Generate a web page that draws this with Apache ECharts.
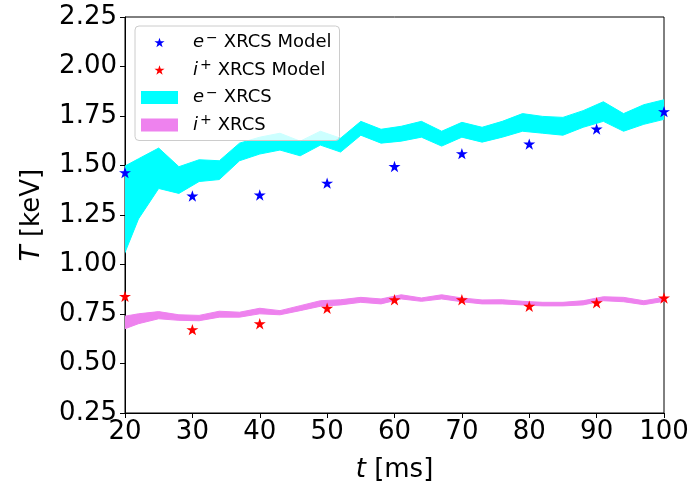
<!DOCTYPE html>
<html>
<head>
<meta charset="utf-8">
<script src="https://cdn.jsdelivr.net/npm/echarts@6/dist/echarts.min.js"></script>
<style>
html,body{margin:0;padding:0;background:#fff;}
#chart{width:695px;height:488px;}
</style>
</head>
<body>
<div id="chart"></div>
<script>
// band time grid (ms)
const bandTimes = [19,22,25,28,31,34,37,40,43,46,49,52,55,58,61,64,67,70,73,76,79,82,85,88,91,94,97,100];
// e- XRCS band (keV)
const eUpper = [1.479,1.534,1.588,1.494,1.529,1.524,1.613,1.643,1.663,1.623,1.673,1.638,1.723,1.683,1.698,1.723,1.673,1.718,1.693,1.723,1.762,1.748,1.743,1.777,1.822,1.762,1.807,1.832];
const eLower = [0.976,1.230,1.384,1.359,1.419,1.429,1.524,1.558,1.578,1.549,1.603,1.568,1.653,1.613,1.623,1.643,1.598,1.643,1.618,1.643,1.673,1.663,1.653,1.693,1.723,1.673,1.708,1.733];
// i+ XRCS band (keV)
const iUpper = [0.733,0.751,0.762,0.746,0.743,0.764,0.759,0.779,0.767,0.792,0.817,0.822,0.834,0.826,0.847,0.831,0.847,0.831,0.821,0.822,0.814,0.809,0.809,0.817,0.837,0.834,0.817,0.834];
const iLower = [0.663,0.701,0.726,0.718,0.716,0.734,0.734,0.751,0.746,0.767,0.789,0.796,0.809,0.801,0.826,0.814,0.826,0.812,0.801,0.801,0.796,0.791,0.791,0.796,0.817,0.812,0.797,0.814];
// model points
const modelTimes = [20,30,40,50,60,70,80,90,100];
const eModel = [1.464,1.346,1.351,1.411,1.495,1.560,1.608,1.684,1.772];
const iModel = [0.839,0.671,0.701,0.779,0.822,0.822,0.789,0.807,0.831];
// ticks
const xTicks = {min:20, max:100, interval:10};
const yTicks = {min:0.25, max:2.25, interval:0.25};

const STAR_PATH = 'M50,0 L61.8,35.1 L100,35.1 L69.1,57.6 L80.9,95.1 L50,72.6 L19.1,95.1 L30.9,57.6 L0,35.1 L38.2,35.1 Z';
const STAR = 'path://' + STAR_PATH;
const STAR_LEGEND = 'path://M-14,-16 M114,112 ' + STAR_PATH;
const FONT = 'DejaVu Sans';

const pairs = (xs, ys) => xs.map((x, k) => [x, ys[k]]);

function bandSeries(name, color, up, lo) {
  return {
    name: name, type: 'custom', clip: true, silent: true, z: 2,
    itemStyle: {color: color},
    data: bandTimes.map((t, k) => [t, lo[k], up[k]]),
    encode: {x: 0, y: [1, 2]},
    renderItem: function (params, api) {
      if (params.dataIndex !== 0) return null;
      const top = bandTimes.map((t, k) => api.coord([t, up[k]]));
      const bot = bandTimes.map((t, k) => api.coord([t, lo[k]])).reverse();
      return {
        type: 'polygon',
        shape: {points: top.concat(bot)},
        style: {fill: color, stroke: color, lineWidth: 1}
      };
    }
  };
}

const rich = {
  i: {fontFamily: FONT, fontStyle: 'italic', fontSize: 18, color: '#000', lineHeight: 20},
  s: {fontFamily: FONT, fontSize: 14, color: '#000', lineHeight: 11, padding: [0, 6, 9, 2]}
};
const eName = '{i|e}{s|−}XRCS Model';
const iName = '{i|i}{s|+}XRCS Model';
const eBand = '{i|e}{s|−}XRCS';
const iBand = '{i|i}{s|+}XRCS';

const chart = echarts.init(document.getElementById('chart'), null, {renderer: 'canvas'});
chart.setOption({
  animation: false,
  backgroundColor: '#ffffff',
  grid: {left: 125, right: 31, top: 17, bottom: 69, show: true, borderColor: '#000', borderWidth: 1, backgroundColor: 'transparent'},
  legend: {
    orient: 'vertical', left: 135, top: 26,
    padding: [5, 8, 4, 6], itemGap: 4.5, itemWidth: 37, itemHeight: 13,
    backgroundColor: 'rgba(255,255,255,0.8)', borderColor: '#cccccc', borderWidth: 1, borderRadius: 4,
    textStyle: {fontFamily: FONT, fontSize: 18, color: '#000', lineHeight: 20, padding: [0, 0, 0, 10], rich: rich},
    data: [
      {name: eName, icon: STAR_LEGEND, itemStyle: {color: '#0000ff'}},
      {name: iName, icon: STAR_LEGEND, itemStyle: {color: '#ff0000'}},
      {name: eBand, icon: 'rect', itemStyle: {color: '#00ffff'}},
      {name: iBand, icon: 'rect', itemStyle: {color: '#ee82ee'}}
    ]
  },
  xAxis: {
    type: 'value', min: xTicks.min, max: xTicks.max, interval: xTicks.interval,
    name: '{i|t} [ms]', nameLocation: 'middle', nameGap: 44,
    nameTextStyle: {fontFamily: FONT, fontSize: 26, color: '#000', rich: {i: {fontFamily: FONT, fontStyle: 'italic', fontSize: 26, color: '#000'}}},
    axisLine: {lineStyle: {color: '#000', width: 1}},
    axisTick: {inside: false, length: 5, lineStyle: {color: '#000'}},
    axisLabel: {fontFamily: FONT, fontSize: 26, color: '#000', margin: 6},
    splitLine: {show: false}
  },
  yAxis: {
    type: 'value', min: yTicks.min, max: yTicks.max, interval: yTicks.interval,
    name: '{i|T} [keV]', nameLocation: 'middle', nameGap: 80, nameRotate: 90,
    nameTextStyle: {fontFamily: FONT, fontSize: 26, color: '#000', rich: {i: {fontFamily: FONT, fontStyle: 'italic', fontSize: 26, color: '#000'}}},
    axisLine: {show: true, lineStyle: {color: '#000', width: 1}},
    axisTick: {show: true, inside: false, length: 5, lineStyle: {color: '#000'}},
    axisLabel: {fontFamily: FONT, fontSize: 26, color: '#000', margin: 8, formatter: v => v.toFixed(2)},
    splitLine: {show: false}
  },
  series: [
    bandSeries(eBand, '#00ffff', eUpper, eLower),
    bandSeries(iBand, '#ee82ee', iUpper, iLower),
    {name: eName, type: 'scatter', data: pairs(modelTimes, eModel), symbol: STAR, symbolSize: 12,
      symbolKeepAspect: true, itemStyle: {color: '#0000ff', opacity: 1}, z: 5, clip: true},
    {name: iName, type: 'scatter', data: pairs(modelTimes, iModel), symbol: STAR, symbolSize: 12,
      symbolKeepAspect: true, itemStyle: {color: '#ff0000', opacity: 1}, z: 5, clip: true}
  ]
});
</script>
</body>
</html>
